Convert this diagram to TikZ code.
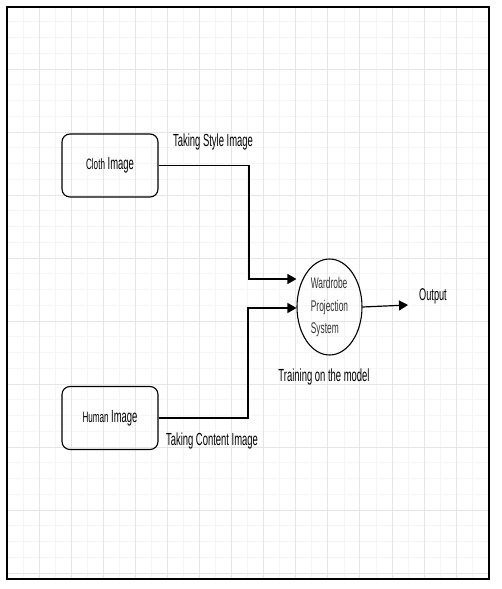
\documentclass[tikz,border=0pt]{standalone}
\usepackage{fontspec}
\setmainfont{Liberation Sans}[FakeStretch=0.54]
\usepackage{tikz}
\usetikzlibrary{positioning,arrows.meta,shapes.geometric}

\begin{document}
\begin{tikzpicture}[x=1pt, y=-1pt, >={Triangle[length=9pt,width=10pt]},
   block/.style={draw, rounded corners=8pt, line width=1.1pt, minimum width=96pt, minimum height=63pt, inner sep=0pt, font=\fontsize{17.5}{20}\selectfont},
   lbl/.style={inner sep=0pt, font=\fontsize{17.5}{20}\selectfont},
   minor/.style={gray!8, line width=0.6pt},
   major/.style={gray!20, line width=0.7pt},
   wire/.style={line width=1.2pt}]
   \useasboundingbox (0,0) rectangle (501,589);
   \fill[white] (0,0) rectangle (501,589);
   \foreach \k in {1,...,36} \draw[minor] (7,{6+15.75*\k}) -- (489,{6+15.75*\k});
   \foreach \k in {0,...,14} \draw[minor] ({23+32.08*\k},7) -- ({23+32.08*\k},579);
   \foreach \k in {1,...,9} \draw[major] (7,{6+63*\k}) -- (489,{6+63*\k});
   \foreach \k in {0,...,14} \draw[major] ({39+32.08*\k},7) -- ({39+32.08*\k},579);
   \draw[line width=1.4pt] (7,7) rectangle (489,579);

   \node[block] (cloth) at (110,165.5) {{\fontsize{15}{17}\selectfont Cloth} Image};
   \node[block] (human) at (110,418) {{\fontsize{15}{17}\selectfont Human} Image};
   \node[draw, ellipse, line width=1.1pt, minimum width=65pt, minimum height=96pt, inner sep=0pt,
         align=left, text=black!80, font=\fontsize{15.5}{22.5}\selectfont] (wps) at (329.5,307) {Wardrobe\\Projection\\System};

   \node[lbl] (style) at (213,142) {Taking Style Image};
   \node[lbl] (content) at (212,441) {Taking Content Image};
   \node[lbl] (train) at (324,377) {Training on the model};
   \node[lbl, font=\fontsize{17}{20}\selectfont] (out) at (433,296) {Output};

   \coordinate (b1) at (249,279);
   \coordinate (b2) at (248,308);
   \coordinate (o1) at (408,305);

   \draw[wire, ->] (cloth.east) -| (b1) -- (b1 -| wps.west);
   \draw[wire, ->] (human.east) -| (b2) -- (b2 -| wps.west);
   \path[wire, ->] (wps.east) edge (o1);
\end{tikzpicture}
\end{document}
